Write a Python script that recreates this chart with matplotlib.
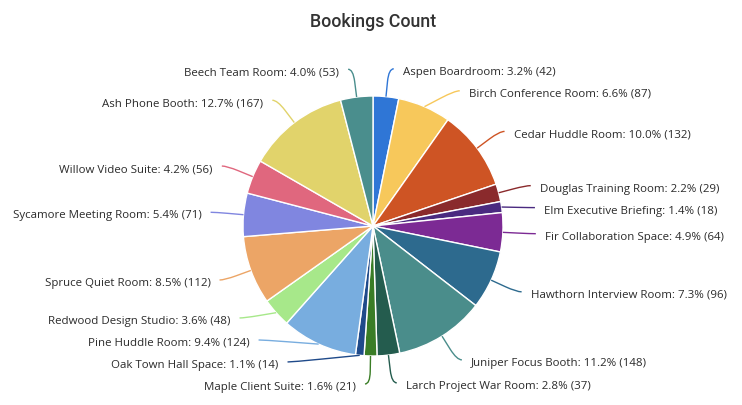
import numpy as np
import matplotlib
matplotlib.use("Agg")
import matplotlib.pyplot as plt
from matplotlib.path import Path
from matplotlib.patches import PathPatch

title = "Bookings Count"
rooms = ["Aspen Boardroom", "Birch Conference Room", "Cedar Huddle Room",
         "Douglas Training Room", "Elm Executive Briefing", "Fir Collaboration Space",
         "Hawthorn Interview Room", "Juniper Focus Booth", "Larch Project War Room",
         "Maple Client Suite", "Oak Town Hall Space", "Pine Huddle Room",
         "Redwood Design Studio", "Spruce Quiet Room", "Sycamore Meeting Room",
         "Willow Video Suite", "Ash Phone Booth", "Beech Team Room"]
counts = [42, 87, 132, 29, 18, 64, 96, 148, 37, 21, 14, 124, 48, 112, 71, 56, 167, 53]
colors = ["#2f76d6", "#f7c85b", "#ce5424", "#8a2a2c", "#4a2a80", "#7c2a94",
          "#2d6a8e", "#4a8d8b", "#245c4e", "#3a7d26", "#1f4a8a", "#78addf",
          "#a7e88a", "#eca566", "#8086e0", "#e0677e", "#e1d36b", "#4a8e8d"]

W, H = 742, 406
fig = plt.figure(figsize=(W / 100, H / 100), dpi=100)
ax = fig.add_axes([0, 0, 1, 1])

cx, cy, r = 373.0, 179.0, 130.0
ax.pie(counts, colors=colors, startangle=90, counterclock=False,
       center=(cx, cy), radius=r, frame=True,
       wedgeprops=dict(edgecolor="white", linewidth=1.0))
ax.set_xlim(0, W)
ax.set_ylim(0, H)
ax.set_aspect("equal")
ax.axis("off")

total = float(sum(counts))
cum = np.cumsum([0] + counts)
mids = (cum[:-1] + cum[1:]) / 2.0 / total * 2 * np.pi  # clockwise from top

R = 158.0      # knee radius
len2 = 5.0
dist = 9.0
gap = 22.0

n = len(counts)
sx = np.sin(mids)
cyv = np.cos(mids)
side = np.where(sx >= 0, 1, -1)
ly = cy + R * cyv
ly0 = ly.copy()

# push labels toward the equator, from pole to equator, per side & semi
for s in (1, -1):
    for semi in (1, -1):  # 1 = top, -1 = bottom
        idx = [i for i in range(n) if side[i] == s and np.sign(ly[i] - cy + 1e-9) == semi]
        idx.sort(key=lambda i: -semi * ly[i])  # from pole
        for k in range(1, len(idx)):
            a, b = idx[k - 1], idx[k]
            if semi == 1:
                ly[b] = min(ly[b], ly[a] - gap)
            else:
                ly[b] = max(ly[b], ly[a] + gap)

lx_off = R * np.abs(sx)
for s in (1, -1):
    sidx = [i for i in range(n) if side[i] == s]
    if not np.any(np.abs(ly[sidx] - ly0[sidx]) > 1e-6):
        continue
    for semi in (1, -1):
        idx = [i for i in sidx if (ly[i] > cy) == (semi == 1)]
        if not idx:
            continue
        far = max(idx, key=lambda i: abs(ly[i] - cy))
        dyf = abs(ly[far] - cy)
        dxf = R * abs(sx[far])
        rB = dyf / np.sqrt(1 - (dxf / R) ** 2) if dxf < R else R
        for i in idx:
            dy = abs(ly[i] - cy)
            lx_off[i] = R * np.sqrt(max(0.0, 1 - dy * dy / (rB * rB)))

for i in range(n):
    s = side[i]
    p0 = np.array([cx + r * sx[i], cy + r * cyv[i]])
    kn = np.array([cx + s * lx_off[i], ly[i]])
    en = np.array([kn[0] + s * len2, ly[i]])
    a = kn + (p0 - kn) * 0.45
    verts = [p0, a, kn, en]
    codes = [Path.MOVETO, Path.LINETO, Path.CURVE3, Path.CURVE3]
    ax.add_patch(PathPatch(Path(verts, codes), facecolor="none",
                           edgecolor=colors[i], linewidth=1.0))
    pct = counts[i] / total * 100
    ax.text(en[0] + s * dist, ly[i] - 1, f"{rooms[i]}: {pct:.1f}% ({counts[i]})",
            ha="left" if s > 0 else "right", va="center_baseline",
            fontsize=8.25, color="#2b2b2b", family=["Open Sans", "DejaVu Sans"])

ax.text(373, H - 22, title, ha="center", va="center", fontsize=12.8,
        color="#333333", family=["Roboto", "DejaVu Sans"], fontweight="medium")

fig.savefig("out.png", dpi=100)
